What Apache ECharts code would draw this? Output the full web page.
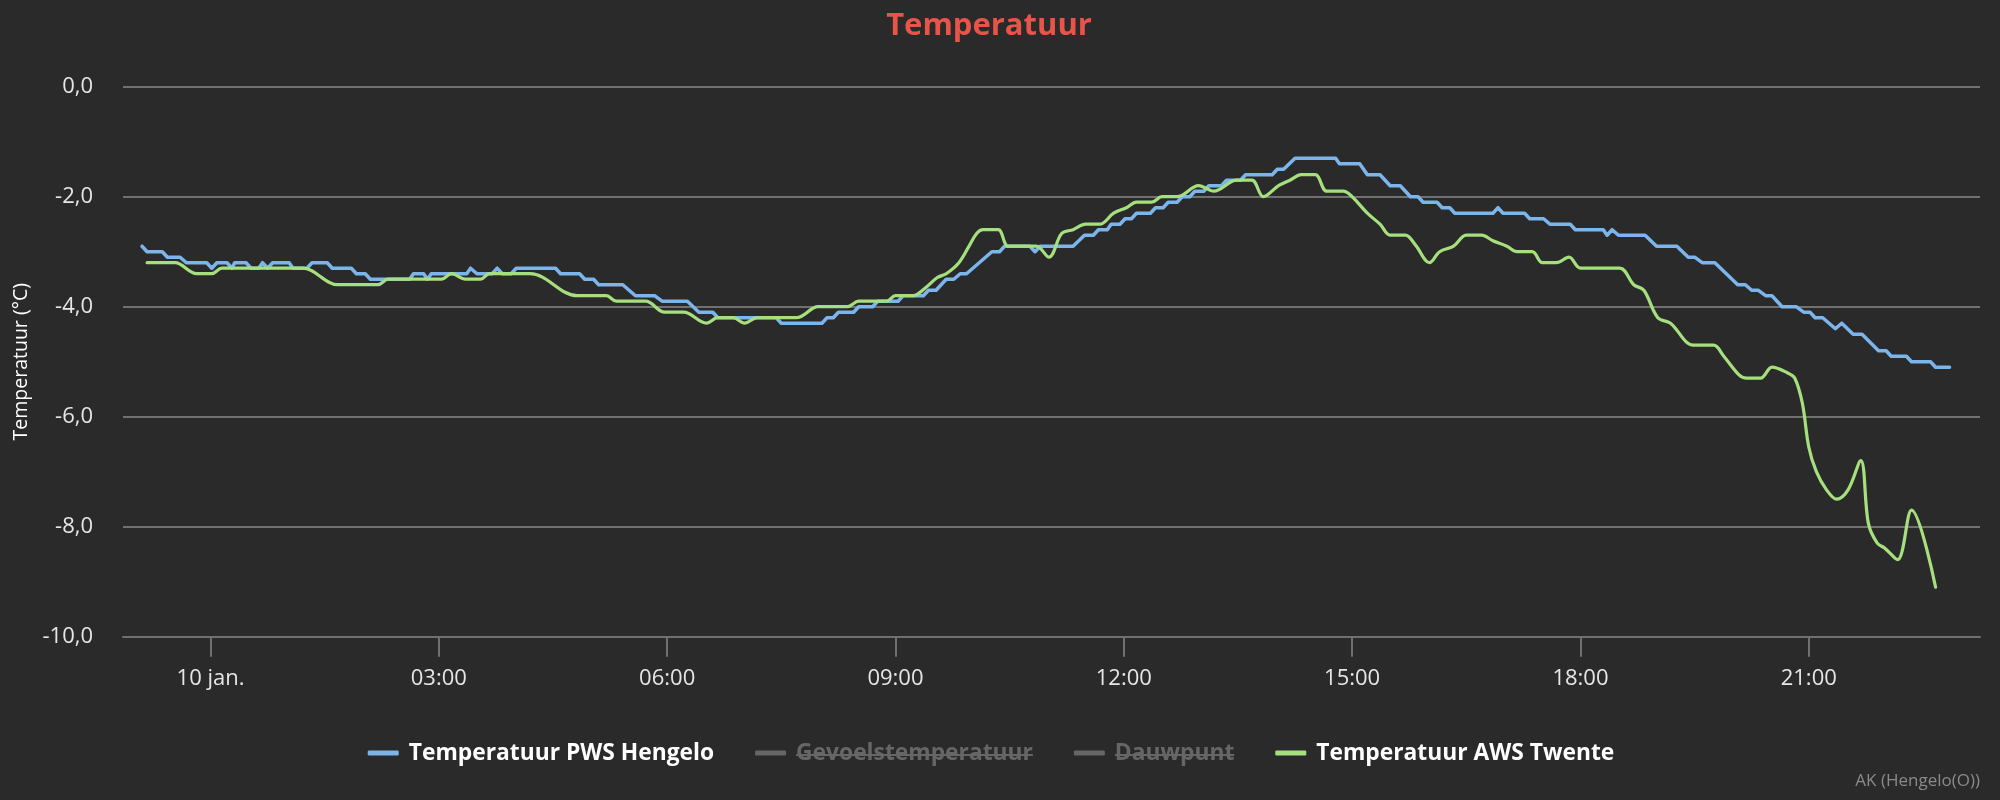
<!DOCTYPE html>
<html>
<head>
<meta charset="utf-8">
<title>Temperatuur</title>
<script src="https://cdn.jsdelivr.net/npm/echarts@6.0.0/dist/echarts.min.js"></script>
<style>
html, body {margin: 0; padding: 0; background: #2a2a2a;}
#main {width: 2000px; height: 800px;}
</style>
</head>
<body>
<div id="main"></div>
<script>
// tijden in minuten vanaf 10 jan. 00:00 (negatief = 9 jan.)
var pwsTimes = [-54, -50, -38, -34, -24, -19, -3, 1, 5, 13, 17, 19, 28, 32, 38, 41, 45, 49, 62, 65, 76, 80, 92, 96,
    111, 115, 122, 126, 157, 160, 168, 171, 174, 202, 205, 210, 222, 226, 230, 237, 241, 272, 276, 291, 295, 302,
    306, 325, 335, 350, 356, 376, 385, 396, 400, 446, 450, 482, 486, 491, 495, 507, 511, 522, 526, 542, 546, 562,
    566, 572, 580, 586, 591, 596, 616, 622, 626, 646, 650, 654, 680, 689, 696, 700, 707, 710, 717, 721, 726, 730,
    741, 745, 751, 755, 762, 766, 772, 776, 783, 787, 797, 801, 812, 816, 837, 841, 846, 855, 887, 890, 906, 912,
    922, 930, 938, 946, 952, 956, 967, 971, 977, 981, 1011, 1015, 1019, 1036, 1040, 1051, 1056, 1072, 1076, 1098,
    1101, 1105, 1110, 1131, 1140, 1156, 1165, 1170, 1176, 1186, 1204, 1210, 1215, 1220, 1226, 1231, 1239, 1250,
    1256, 1261, 1265, 1271, 1281, 1286, 1295, 1302, 1315, 1321, 1325, 1337, 1341, 1356, 1360, 1371];
var pwsValues = [-2.9, -3.0, -3.0, -3.1, -3.1, -3.2, -3.2, -3.3, -3.2, -3.2, -3.3, -3.2, -3.2, -3.3, -3.3, -3.2, -3.3, -3.2, -3.2, -3.3, -3.3, -3.2, -3.2, -3.3,
    -3.3, -3.4, -3.4, -3.5, -3.5, -3.4, -3.4, -3.5, -3.4, -3.4, -3.3, -3.4, -3.4, -3.3, -3.4, -3.4, -3.3, -3.3, -3.4, -3.4, -3.5, -3.5,
    -3.6, -3.6, -3.8, -3.8, -3.9, -3.9, -4.1, -4.1, -4.2, -4.2, -4.3, -4.3, -4.2, -4.2, -4.1, -4.1, -4.0, -4.0, -3.9, -3.9, -3.8, -3.8,
    -3.7, -3.7, -3.5, -3.5, -3.4, -3.4, -3.0, -3.0, -2.9, -2.9, -3.0, -2.9, -2.9, -2.7, -2.7, -2.6, -2.6, -2.5, -2.5, -2.4, -2.4, -2.3,
    -2.3, -2.2, -2.2, -2.1, -2.1, -2.0, -2.0, -1.9, -1.9, -1.8, -1.8, -1.7, -1.7, -1.6, -1.6, -1.5, -1.5, -1.3, -1.3, -1.4, -1.4, -1.6,
    -1.6, -1.8, -1.8, -2.0, -2.0, -2.1, -2.1, -2.2, -2.2, -2.3, -2.3, -2.2, -2.3, -2.3, -2.4, -2.4, -2.5, -2.5, -2.6, -2.6,
    -2.7, -2.6, -2.7, -2.7, -2.9, -2.9, -3.1, -3.1, -3.2, -3.2, -3.6, -3.6, -3.7, -3.7, -3.8, -3.8, -4.0, -4.0,
    -4.1, -4.1, -4.2, -4.2, -4.4, -4.3, -4.5, -4.5, -4.8, -4.8, -4.9, -4.9, -5.0, -5.0, -5.1, -5.1];

var awsTimes = [-50, -28, -11, 1, 9, 73, 100, 132, 140, 182, 190, 201, 213, 220, 252, 289, 312, 320, 343, 358, 373,
    391, 400, 412, 421, 431, 462, 479, 502, 511, 533, 540, 554, 563, 573, 580, 590, 598, 604, 609, 621, 629, 651,
    661, 671, 680, 690, 701, 712, 722, 730, 742, 750, 762, 779, 791, 809, 821, 830, 842, 851, 860, 871, 880, 893,
    900, 912, 922, 930, 942, 950, 961, 969, 980, 990, 1002, 1011, 1022, 1030, 1042, 1050, 1061, 1071, 1080, 1111,
    1122, 1130, 1141, 1151, 1169, 1185, 1193, 1205, 1211, 1222, 1231, 1243, 1249, 1255, 1260, 1266, 1274, 1282,
    1291, 1301, 1307, 1314, 1320, 1330, 1341, 1360];
var awsValues = [-3.2, -3.2, -3.4, -3.4, -3.3, -3.3, -3.6, -3.6, -3.5, -3.5, -3.4, -3.5, -3.5, -3.4, -3.4, -3.8, -3.8, -3.9, -3.9, -4.1, -4.1,
    -4.3, -4.2, -4.2, -4.3, -4.2, -4.2, -4.0, -4.0, -3.9, -3.9, -3.8, -3.8, -3.67, -3.47, -3.4, -3.2, -2.9, -2.67, -2.6, -2.6, -2.9, -2.9,
    -3.1, -2.67, -2.6, -2.5, -2.5, -2.3, -2.2, -2.1, -2.1, -2.0, -2.0, -1.8, -1.9, -1.7, -1.7, -2.0, -1.8, -1.7, -1.6, -1.6, -1.9, -1.9,
    -2.0, -2.3, -2.5, -2.7, -2.7, -2.88, -3.2, -3.0, -2.9, -2.7, -2.7, -2.8, -2.9, -3.0, -3.0, -3.2, -3.2, -3.1, -3.3, -3.3,
    -3.6, -3.7, -4.2, -4.3, -4.7, -4.7, -4.9, -5.24, -5.3, -5.3, -5.1, -5.2, -5.3, -5.76, -6.55, -7.0, -7.33, -7.5,
    -7.33, -6.8, -7.94, -8.3, -8.39, -8.6, -7.7, -9.1];

var xTickValues = [0, 180, 360, 540, 720, 900, 1080, 1260];
var xTickLabels = ['10 jan.', '03:00', '06:00', '09:00', '12:00', '15:00', '18:00', '21:00'];
var seriesNames = ['Temperatuur PWS Hengelo', 'Gevoelstemperatuur', 'Dauwpunt', 'Temperatuur AWS Twente'];
var hiddenNames = ['Gevoelstemperatuur', 'Dauwpunt'];

var fontFam = '"Open Sans", "Noto Sans", sans-serif';

// tekstbreedte meten
var ctx = document.createElement('canvas').getContext('2d');
function textWidth(txt, weight, size) {
    ctx.font = weight + ' ' + size + 'px ' + fontFam;
    return ctx.measureText(txt).width;
}
// lettergrootte zoeken die een gegeven breedte geeft
function fitSize(txt, weight, target) {
    return Math.round(20 * target / textWidth(txt, weight, 20) * 10) / 10;
}

function zip(t, v) {
    var out = [];
    for (var i = 0; i < t.length; i++) {
        out.push([t[i], v[i]]);
    }
    return out;
}

var titleSize = fitSize('Temperatuur', 'bold', 206);
var legendSize = fitSize(seriesNames[0], 'bold', 305);

// legenda opbouw (om doorgehaalde tekst te tekenen)
var iconW = 31, textPad = 5, itemGap = 41, legendMid = 991, legendY = 754;
var widths = seriesNames.map(function (n) { return textWidth(n, 'bold', legendSize); });
var total = 0;
for (var i = 0; i < widths.length; i++) {
    total += iconW + 5 + textPad + widths[i] + (i > 0 ? itemGap : 0);
}
var legendLeft = legendMid - total / 2;
var strikes = [];
var xx = legendLeft;
for (var j = 0; j < seriesNames.length; j++) {
    var tx = xx + iconW + 5 + textPad;
    if (hiddenNames.indexOf(seriesNames[j]) >= 0) {
        strikes.push({
            type: 'line',
            shape: {x1: tx, y1: legendY + 1, x2: tx + widths[j], y2: legendY + 1},
            style: {stroke: '#666666', lineWidth: 2},
            z: 100
        });
    }
    xx = tx + widths[j] + itemGap;
}
var selected = {};
hiddenNames.forEach(function (n) { selected[n] = false; });

var titleW = textWidth('Temperatuur', 'bold', titleSize);

var chart = echarts.init(document.getElementById('main'));
var option = {
    backgroundColor: '#2a2a2a',
    animation: false,
    title: {
        text: 'Temperatuur',
        left: 989 - titleW / 2,
        top: 11,
        padding: 0,
        textStyle: {color: '#e8534a', fontSize: titleSize, fontWeight: 'bold', fontFamily: fontFam}
    },
    legend: {
        data: seriesNames,
        selected: selected,
        left: legendLeft,
        top: legendY - legendSize / 2 - 1,
        padding: 0,
        itemGap: itemGap,
        itemWidth: iconW,
        itemHeight: 5,
        icon: 'roundRect',
        inactiveColor: '#666666',
        textStyle: {color: '#ffffff', fontSize: legendSize, fontWeight: 'bold', fontFamily: fontFam, padding: [0, 0, 0, textPad]}
    },
    grid: {left: 123, right: 20, top: 86.7, bottom: 163.3},
    xAxis: {
        type: 'value',
        min: -69,
        max: 1395,
        axisLine: {show: true, onZero: false, lineStyle: {color: '#707070', width: 2}},
        axisTick: {show: true, length: 20, customValues: xTickValues, lineStyle: {color: '#707070', width: 2}},
        axisLabel: {
            customValues: xTickValues,
            margin: 31,
            color: '#e6e6e6',
            fontSize: 22,
            fontFamily: fontFam,
            formatter: function (v) {
                var k = xTickValues.indexOf(v);
                return k >= 0 ? xTickLabels[k] : '';
            }
        },
        splitLine: {show: false}
    },
    yAxis: {
        type: 'value',
        min: -10,
        max: 0,
        interval: 2,
        name: 'Temperatuur (°C)',
        nameLocation: 'middle',
        nameGap: 90,
        nameTextStyle: {color: '#ffffff', fontSize: 19.5, fontFamily: fontFam},
        axisLine: {show: false},
        axisTick: {show: false},
        axisLabel: {
            margin: 30,
            color: '#e6e6e6',
            fontSize: 22,
            fontFamily: fontFam,
            formatter: function (v) { return v.toFixed(1).replace('.', ','); }
        },
        splitLine: {lineStyle: {color: '#707070', width: 2}}
    },
    series: [
        {
            name: seriesNames[0], type: 'line', data: zip(pwsTimes, pwsValues),
            showSymbol: false, color: '#7cb5ec',
            lineStyle: {width: 3.5, cap: 'round', join: 'round'}
        },
        {name: seriesNames[1], type: 'line', data: [], showSymbol: false, color: '#434348'},
        {name: seriesNames[2], type: 'line', data: [], showSymbol: false, color: '#f7a35c'},
        {
            name: seriesNames[3], type: 'line', data: zip(awsTimes, awsValues),
            showSymbol: false, smooth: 0.35, color: '#a6e07e',
            lineStyle: {width: 3.2, cap: 'round', join: 'round'}
        }
    ],
    graphic: strikes.concat([
        {
            type: 'text', right: 20, top: 773,
            style: {text: 'AK (Hengelo(O))', fill: '#8a8a8a', fontSize: 17, fontFamily: fontFam}
        }
    ])
};
chart.setOption(option);
</script>
</body>
</html>
